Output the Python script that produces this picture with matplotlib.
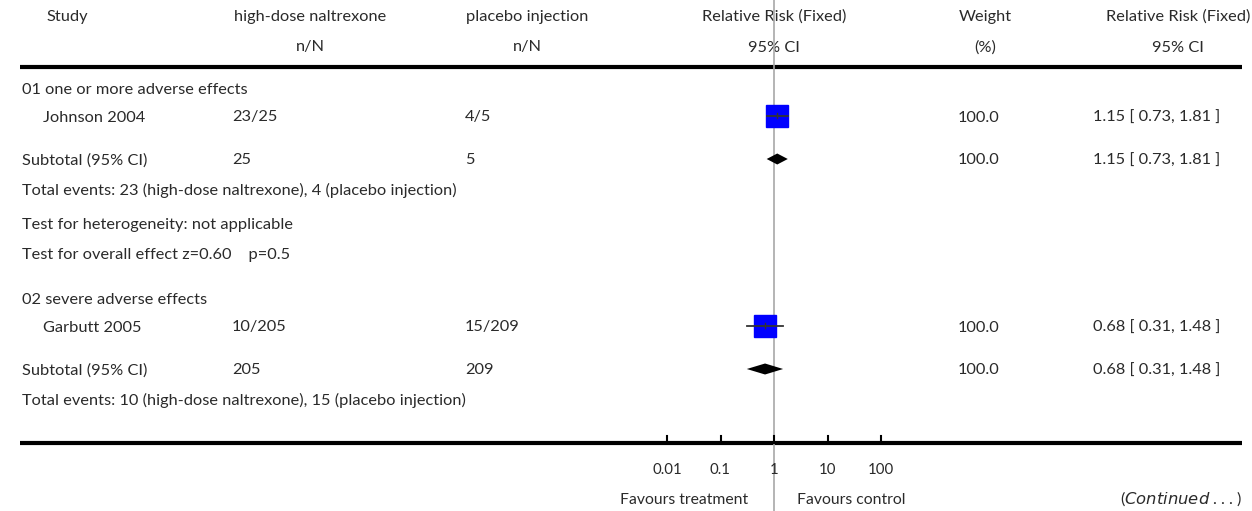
import matplotlib
matplotlib.use('Agg')
import matplotlib.pyplot as plt

plt.rcParams['font.family'] = ['Lato', 'DejaVu Sans']

# --- data ---
group_titles = ['01 one or more adverse effects', '02 severe adverse effects']
studies = ['Johnson 2004', 'Garbutt 2005']
treat_nN = ['23/25', '10/205']
ctrl_nN = ['4/5', '15/209']
treat_total = ['25', '205']
ctrl_total = ['5', '209']
rr = [1.15, 0.68]
rr_low = [0.73, 0.31]
rr_high = [1.81, 1.48]
weights = ['100.0', '100.0']
total_events = ['Total events: 23 (high-dose naltrexone), 4 (placebo injection)',
                'Total events: 10 (high-dose naltrexone), 15 (placebo injection)']
extra_lines = ['Test for heterogeneity: not applicable',
               'Test for overall effect z=0.60    p=0.5']
tick_vals = [0.01, 0.1, 1, 10, 100]
tick_labels = ['0.01', '0.1', '1', '10', '100']

# --- layout (pixels) ---
W, H = 1252, 511
fs = 11.8
tc = '#2a2a2a'
dy = 1.5  # small nudge so text sits like the original
y_group = [89, 299]
y_study = [116, 326]
y_sub = [159, 369]
y_events = [189, 399]
y_extra = [224, 254]
x_study, x_indent, x_tr, x_ct, x_w, x_ci = 22, 43, 232, 465, 958, 1093

fig = plt.figure(figsize=(W / 100, H / 100), dpi=100)
ax = fig.add_axes([0, 0, 1, 1])
ax.set_xlim(0, W)
ax.set_ylim(H, 0)
ax.axis('off')

# forest axes: log scale, 1 at x=774, 53.5 px per decade
fx = fig.add_axes([0, 0, 1, 1], facecolor='none')
fx.set_xscale('log')
fx.set_xlim(10 ** ((0 - 774) / 53.5), 10 ** ((W - 774) / 53.5))
fx.set_ylim(H, 0)
fx.axis('off')

def txt(x, y, s, ha='left', **kw):
    ax.text(x, y + dy, s, ha=ha, va='center', fontsize=fs, color=tc, **kw)

# header
for x, a, b in [(67, 'Study', ''), (310, 'high-dose naltrexone', 'n/N'),
                (527, 'placebo injection', 'n/N'),
                (774, 'Relative Risk (Fixed)', '95% CI'),
                (985, 'Weight', '(%)'),
                (1178, 'Relative Risk (Fixed)', '95% CI')]:
    txt(x, 15, a, ha='center')
    if b:
        txt(x, 46, b, ha='center')

ax.plot([20, 1242], [67, 67], color='black', lw=3, solid_capstyle='butt')
ax.plot([20, 1242], [443, 443], color='black', lw=3, solid_capstyle='butt')

# reference line at RR = 1
fx.plot([1, 1], [0, H], color='#a8a8a8', lw=1.2, zorder=1)

for i in range(2):
    ci_text = '%.2f [ %.2f, %.2f ]' % (rr[i], rr_low[i], rr_high[i])
    txt(x_study, y_group[i], group_titles[i])
    txt(x_indent, y_study[i], studies[i])
    txt(x_tr, y_study[i], treat_nN[i])
    txt(x_ct, y_study[i], ctrl_nN[i])
    txt(x_w, y_study[i], weights[i])
    txt(x_ci, y_study[i], ci_text)
    txt(x_study, y_sub[i], 'Subtotal (95% CI)')
    txt(x_tr, y_sub[i], treat_total[i])
    txt(x_ct, y_sub[i], ctrl_total[i])
    txt(x_w, y_sub[i], weights[i])
    txt(x_ci, y_sub[i], ci_text)
    txt(x_study, y_events[i], total_events[i])

    # study square + CI
    fx.plot([rr[i]], [y_study[i]], marker='s', ms=15.5, color='#0000ff',
            mec='#0000ff', zorder=3)
    fx.plot([rr_low[i], rr_high[i]], [y_study[i], y_study[i]], color='#333333',
            lw=1.3, zorder=4)
    fx.plot([rr[i], rr[i]], [y_study[i] - 2.5, y_study[i] + 2.5], color='#333333',
            lw=1.0, zorder=4)
    # subtotal diamond
    ys = y_sub[i]
    fx.fill([rr_low[i], rr[i], rr_high[i], rr[i]], [ys, ys - 5.5, ys, ys + 5.5],
            color='black', lw=0, zorder=3)

for j, s in enumerate(extra_lines):
    txt(x_study, y_extra[j], s)

# x axis ticks
for v, lab in zip(tick_vals, tick_labels):
    fx.plot([v, v], [436, 443], color='black', lw=1.5)
    fx.text(v, 469 + dy, lab, ha='center', va='center', fontsize=fs - 1, color=tc)

fx.text(0.33, 499 + dy, 'Favours treatment', ha='right', va='center',
        fontsize=fs - 0.5, color=tc)
fx.text(2.7, 499 + dy, 'Favours control', ha='left', va='center',
        fontsize=fs - 0.5, color=tc)
ax.text(1242, 497 + dy, r'($\mathit{Continued}$ . . . )', ha='right', va='center',
        fontsize=fs, color=tc)

fig.savefig('out.png', dpi=100)
